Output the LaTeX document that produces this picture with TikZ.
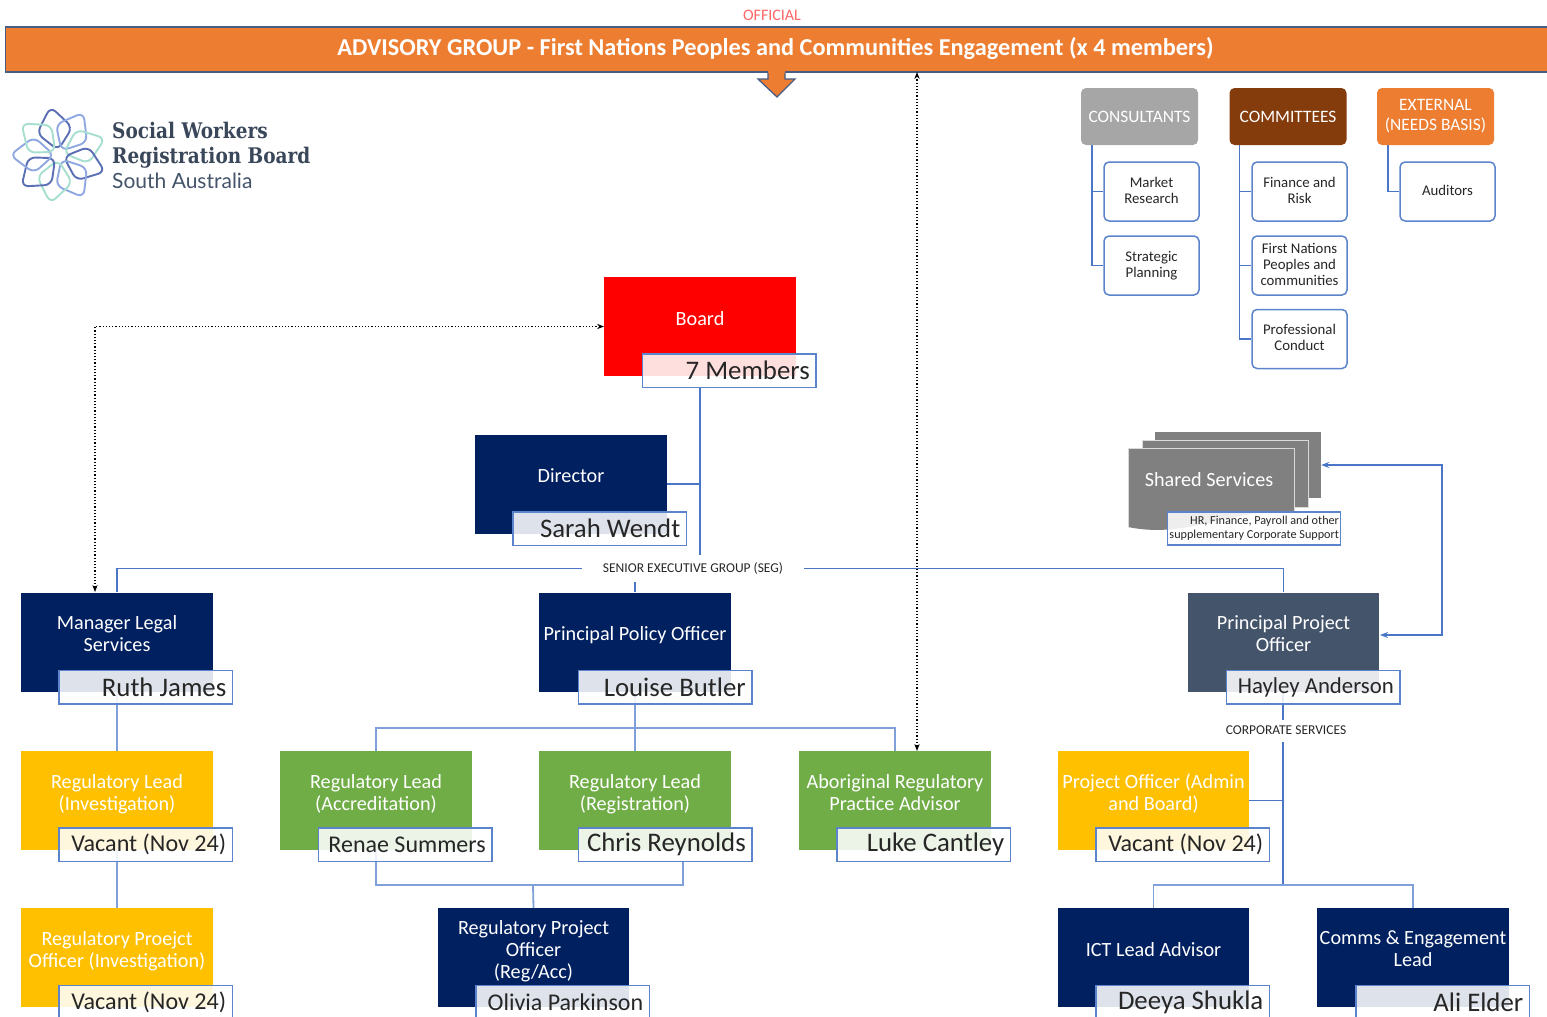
\documentclass[tikz,border=0pt]{standalone}
\usepackage{fontspec}
\setmainfont{Carlito}
\newfontfamily\logoserif[FakeStretch=0.86]{DejaVu Serif}
\newfontfamily\logosans{Lato}
\usepackage{xcolor}
\usetikzlibrary{arrows.meta, backgrounds}
\definecolor{orgnavy}{HTML}{002060}
\definecolor{orgslate}{HTML}{44546A}
\definecolor{orgamber}{HTML}{FFC000}
\definecolor{orggreen}{HTML}{70AD47}
\definecolor{orgorange}{HTML}{ED7D31}
\definecolor{orgbrown}{HTML}{843C0C}
\definecolor{orgblue}{HTML}{4A76C8}
\definecolor{orgpale}{HTML}{7FA0D8}
\definecolor{orgink}{HTML}{262626}
\newcommand{\namesize}[1]{\fontsize{#1}{#1}\selectfont}
\newcommand{\lift}{\\[-5pt]\mbox{}}
\newcommand{\nudge}{\\[-13pt]\mbox{}}
\begin{document}
\begin{tikzpicture}[
  x=1pt, y=-1pt,
  role/.style={
    rectangle,
    minimum width=191.5pt,
    minimum height=99pt,
    align=center,
    inner sep=1pt,
    text=white,
    font=\fontsize{20.2}{22}\selectfont
  },
  holder/.style={
    rectangle,
    draw=orgblue!90,
    line width=1.5pt,
    fill=white,
    fill opacity=0.87,
    text opacity=1,
    minimum height=33.5pt,
    text width=161.5pt,
    inner xsep=6pt,
    inner ysep=1pt,
    align=flush right,
    text=orgink,
    font=\namesize{26.8}
  },
  head/.style={
    rectangle,
    rounded corners=5pt,
    minimum width=117pt,
    minimum height=57pt,
    align=center,
    inner sep=1pt,
    text=white,
    font=\fontsize{17.4}{20}\selectfont
  },
  member/.style={
    rectangle,
    rounded corners=5pt,
    draw=orgblue!90,
    line width=1.5pt,
    fill=white,
    minimum width=95pt,
    minimum height=59pt,
    align=center,
    inner sep=1pt,
    text=orgink,
    font=\fontsize{14.8}{16}\selectfont
  },
  tiny/.style={
    inner sep=0pt,
    text=orgink,
    font=\fontsize{13.5}{15}\selectfont
  },
  link/.style={draw=orgblue, line width=1.5pt},
  palelink/.style={draw=orgpale, line width=1.8pt},
  dotlink/.style={draw=black, line width=1.2pt, dotted, {Stealth[length=7pt]}-{Stealth[length=7pt]}},
  looplink/.style={draw=orgblue, line width=1.5pt, {Stealth[length=8pt]}-{Stealth[length=8pt]}}
]
  \clip (0,0) rectangle (1547,1017);

  % Banner
  \node[tiny, text=red!60, font=\fontsize{16}{18}\selectfont] (official) at (772,15) {OFFICIAL};
  \node[rectangle, draw=orgslate!70!orgblue, line width=1.3pt, fill=orgorange, minimum width=1560pt, minimum height=45pt,
    anchor=west] (banner) at (5,49.5) {};
  \node[inner sep=0pt, text=white, font=\fontsize{24.3}{28}\bfseries\selectfont] (bannertext) at (775.5,48.5)
    {ADVISORY GROUP - First Nations Peoples and Communities Engagement (x 4 members)};
  \fill[orgorange] (768,71) -- (785,71) -- (785,79) -- (795,79) -- (777,97) -- (758,79) -- (768,79) -- cycle;
  \draw[orgslate!70!orgblue, line width=1.3pt] (768,73) -- (768,79) -- (758,79) -- (777,97) -- (795,79) -- (785,79) -- (785,73);

  % Logo
  \begin{scope}[shift={(59,155)}, line width=1.9pt, rounded corners=7pt]
    \foreach \ang/\col in {100/5B6FB5, 60/8FA8E0, 20/A6DFCF, -20/5B6FB5, -60/8FA8E0, -100/A6DFCF, -140/5B6FB5, 180/8FA8E0, 140/A6DFCF} {
      \definecolor{petal}{HTML}{\col}
      \draw[petal, rotate=\ang] (5,0) -- (25,-18) -- (49,0) -- (25,18) -- cycle;
    }
  \end{scope}
  \node[anchor=base west, inner sep=0pt, text=orgslate!85!black, font=\logoserif\bfseries\fontsize{21.5}{24}\selectfont] (logoa) at (112,138) {Social Workers};
  \node[anchor=base west, inner sep=0pt, text=orgslate!85!black, font=\logoserif\bfseries\fontsize{21.5}{24}\selectfont] (logob) at (112,163) {Registration Board};
  \node[anchor=base west, inner sep=0pt, text=orgslate, font=\logosans\fontsize{21}{24}\selectfont] (logoc) at (112,188) {South Australia};

  % Side groups
  \node[head, fill=black!35] (consultants) at (1139.5,116.5) {CONSULTANTS};
  \node[head, fill=orgbrown] (committees) at (1288,116.5) {COMMITTEES};
  \node[head, fill=orgorange] (external) at (1435.5,116.5) {EXTERNAL\\(NEEDS BASIS)};
  \node[member] (market) at (1151.5,191.5) {Market\\Research\nudge};
  \node[member] (strategic) at (1151.5,265.5) {Strategic\\Planning\nudge};
  \node[member] (finance) at (1299.5,191.5) {Finance and\\Risk\nudge};
  \node[member] (firstnations) at (1299.5,265.5) {First Nations\\Peoples and\\communities\nudge};
  \node[member] (conduct) at (1299.5,339) {Professional\\Conduct\nudge};
  \node[member] (auditors) at (1447.5,191.5) {Auditors\nudge};

  % Board and director
  \node[role, fill=red] (board) at (700,326.5) {Board\lift};
  \node[holder] (members) at (729,370.5) {7 Members};
  \node[role, fill=orgnavy] (director) at (571,484) {Director\lift};
  \node[holder] (wendt) at (599.5,528.5) {Sarah Wendt};

  % Shared services
  \node[rectangle, fill=black!50, minimum width=166pt, minimum height=66pt] (sharedback) at (1238,465) {};
  \node[rectangle, fill=black!50, draw=white!85!black, line width=0.8pt, minimum width=166pt, minimum height=67pt] (sharedmid) at (1225,473.5) {};
  \fill[black!50] (1128,448) -- (1294,448) -- (1294,512) .. controls (1240,505) and (1190,540) .. (1128,527) -- cycle;
  \draw[white!85!black, line width=0.8pt] (1128,527) -- (1128,448) -- (1294,448) -- (1294,512);
  \node[inner sep=0pt, text=white, font=\fontsize{20.2}{22}\selectfont] (shared) at (1209,480) {Shared Services};
  \node[holder, minimum height=33pt, text width=170pt, inner xsep=1.5pt, font=\fontsize{12.2}{14}\selectfont] (sharedsupport) at (1254,528.5)
    {HR, Finance, Payroll and other\\supplementary Corporate Support};

  % Senior executive group
  \node[tiny, minimum width=222pt, minimum height=26pt] (seg) at (693,568.5) {SENIOR EXECUTIVE GROUP (SEG)};
  \node[role, fill=orgnavy] (legal) at (117,642) {Manager Legal\\Services\lift};
  \node[holder] (james) at (145.5,687) {Ruth James};
  \node[role, fill=orgnavy] (policy) at (635,642) {Principal Policy Officer\lift};
  \node[holder] (butler) at (665,687) {Louise Butler};
  \node[role, fill=orgslate] (project) at (1283.5,642) {Principal Project\\Officer\lift};
  \node[holder, font=\namesize{22.8}] (anderson) at (1313,687) {Hayley Anderson};

  % Leads
  \node[role, fill=orgamber] (leadinv) at (117,800.5) {Regulatory Lead\\(Investigation)\lift};
  \node[holder, font=\namesize{24.1}] (vacanta) at (145.5,844.5) {Vacant (Nov 24)};
  \node[role, fill=orggreen] (leadacc) at (376,800.5) {Regulatory Lead\\(Accreditation)\lift};
  \node[holder, font=\namesize{24}] (summers) at (405,844.5) {Renae Summers};
  \node[role, fill=orggreen] (leadreg) at (635,800.5) {Regulatory Lead\\(Registration)\lift};
  \node[holder] (reynolds) at (665,844.5) {Chris Reynolds};
  \node[role, fill=orggreen] (advisor) at (895,800.5) {Aboriginal Regulatory\\Practice Advisor\lift};
  \node[holder] (cantley) at (923.5,844.5) {Luke Cantley};
  \node[role, fill=orgamber] (admin) at (1153.5,800.5) {Project Officer (Admin\\and Board)\lift};
  \node[holder, font=\namesize{24.1}] (vacantb) at (1182.5,844.5) {Vacant (Nov 24)};
  \node[tiny] (corporate) at (1286,730) {CORPORATE SERVICES};

  % Officers
  \node[role, fill=orgamber] (officerinv) at (117,957.5) {Regulatory Proejct\\Officer (Investigation)\lift};
  \node[holder, font=\namesize{24.1}] (vacantc) at (145.5,1002) {Vacant (Nov 24)};
  \node[role, fill=orgnavy] (officerreg) at (533.5,957.5) {Regulatory Project\\Officer\\(Reg/Acc)\lift};
  \node[holder, font=\namesize{24}] (parkinson) at (562.5,1002) {Olivia Parkinson};
  \node[role, fill=orgnavy] (ict) at (1153.5,957.5) {ICT Lead Advisor\lift};
  \node[holder] (shukla) at (1182.5,1002) {Deeya Shukla};
  \node[role, fill=orgnavy] (comms) at (1413,957.5) {Comms \& Engagement\\Lead\lift};
  \node[holder] (elder) at (1442.5,1002) {Ali Elder};

  % Free ends
  \coordinate (boardline) at (700,387);
  \coordinate (segtop) at (700,555);
  \coordinate (segdrop) at (635,582);
  \coordinate (policybar) at (635,728);
  \coordinate (recjoin) at (533,885);
  \coordinate (reynoldsdrop) at (683,861);
  \coordinate (corptop) at (1283,720);
  \coordinate (corpbottom) at (1283,742);
  \coordinate (corpbar) at (1283,885);
  \coordinate (loopcorner) at (1442,465);
  \coordinate (loopend) at (1380,635);
  \coordinate (bannerport) at (917,72);
  \coordinate (advisorport) at (917,751);
  \coordinate (legalport) at (95,592);

  % Connectors
  \begin{scope}[on background layer]
    \draw[link] (boardline) -- (segtop);
    \draw[link] (director.east) -| (boardline);
    \draw[link] (legal.north) |- (seg.west);
    \draw[link] (seg.east) -| (project.north);
    \draw[link] (segdrop) -- (policy.north);
    \draw[palelink] (legal.south) -- (leadinv.north);
    \draw[palelink] (leadinv.south) -- (officerinv.north);
    \draw[palelink] (policy.south) -- (leadreg.north);
    \draw[palelink] (leadacc.north) |- (policybar) -| (advisor.north);
    \draw[palelink] (leadacc.south) |- (recjoin) -| (reynoldsdrop);
    \draw[palelink] (recjoin) -- (officerreg.north);
    \draw[link] (project.south -| corptop) -- (corptop);
    \draw[link] (corpbottom) -- (corpbar);
    \draw[link] (admin.east) -| (corpbottom);
    \draw[palelink] (ict.north) |- (corpbar) -| (comms.north);
    \draw[link] ([xshift=11pt]consultants.south west) |- (market.west);
    \draw[link] ([xshift=11pt]consultants.south west) |- (strategic.west);
    \draw[link] ([xshift=10pt]committees.south west) |- (finance.west);
    \draw[link] ([xshift=10pt]committees.south west) |- (firstnations.west);
    \draw[link] ([xshift=10pt]committees.south west) |- (conduct.west);
    \draw[link] ([xshift=11pt]external.south west) |- (auditors.west);
  \end{scope}
  \draw[looplink] (sharedback.east) -- (loopcorner) |- (loopend);
  \draw[dotlink] (bannerport) -- (advisorport);
  \draw[dotlink] (board.west) -| (legalport);
\end{tikzpicture}
\end{document}
